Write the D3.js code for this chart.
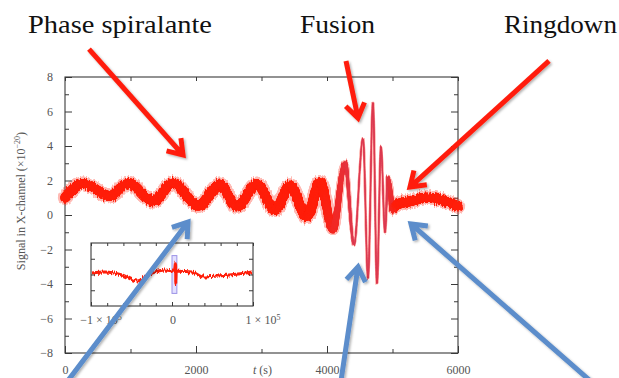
<!DOCTYPE html>
<html>
<head>
<meta charset="utf-8">
<script src="https://cdn.jsdelivr.net/npm/d3@7"></script>
<style>
  body { margin: 0; background: #fff; }
  svg { display: block; }
  .axis text { font-family: "Liberation Serif", "DejaVu Serif", serif; font-size: 12px; fill: #555; }
  .axis line { stroke: #3a3a3a; }
  .axis path { stroke: none; }
</style>
</head>
<body>
<div id="chart"></div>
<script>
const signalT = [0, 275, 687, 962, 1344, 1649, 2031, 2366, 2626, 2931, 3206, 3435, 3695, 3893,
  4092, 4275, 4412, 4550, 4626, 4702, 4763, 4824, 4886, 4931, 5008, 5069, 5268, 5528, 5803, 6000];
const signalV = [1.0, 1.8, 1.1, 1.85, 0.8, 1.85, 0.55, 1.75, 0.5, 1.8, 0.3, 1.7, -0.1, 1.9,
  -0.85, 3.05, -1.75, 4.45, -3.65, 6.5, -3.95, 3.95, -1.0, 2.2, 0.3, 0.6, 0.8, 1.0, 0.8, 0.5];

// inset: the long record, the main window marked around t = 0
const insetT = [-98800, -82700, -61700, -43200, -24700, -8600, 0, 3000, 4500, 4700, 5200, 8000,
  24700, 38300, 56800, 81500, 98800];
const insetV = [0.19, 0.32, -0.06, -0.82, 0.19, 0.57, 0.45, 0.4, 1.5, -1.2, 0.4, 0.4,
  0.32, -0.32, -0.19, 0.06, 0.32];
const insetWindowT = [0, 6000];
const insetWindowV = [-2.4, 2.4];

const xTicks = [0, 2000, 4000, 6000];
const xMinor = [1000, 3000, 5000];
const yTicks = [-8, -6, -4, -2, 0, 2, 4, 6, 8];
const yMinor = [-7, -5, -3, -1, 1, 3, 5, 7];
const insetXTicks = [-100000, 0, 100000];
const insetXMinor = [-80000, -60000, -40000, -20000, 20000, 40000, 60000, 80000];

// annotations: label text, arrow tail and tip in data units (t, signal)
const labels = ["Phase spiralante", "Fusion", "Ringdown"];
const redArrows = [
  [[366, 9.62], [1802, 3.48]],
  [[4290, 8.93], [4473, 5.62]],
  [[7389, 8.93], [5267, 1.62]]
];
const blueArrows = [
  [[46, -9.6], [1878, -0.41]],
  [[4214, -9.6], [4473, -3.01]],
  [[8015, -9.6], [5282, -0.52]]
];

const W = 619, H = 378;
const plot = { left: 65, right: 458, top: 77, bottom: 353 };
const inset = { left: 91, right: 253, top: 243, bottom: 306 };
const RED = "#ff1e0a", BLUE = "#5b8dcb";
const serif = '"Liberation Serif", "DejaVu Serif", serif';

const svg = d3.select("#chart").append("svg").attr("width", W).attr("height", H);
const defs = svg.append("defs");

// jagged noise on the trace
const noise = defs.append("filter").attr("id", "noise")
  .attr("filterUnits", "userSpaceOnUse").attr("x", 0).attr("y", 0).attr("width", W).attr("height", H)
  .attr("color-interpolation-filters", "sRGB");
noise.append("feTurbulence").attr("type", "fractalNoise").attr("baseFrequency", "0.9 0.07")
  .attr("numOctaves", 2).attr("seed", 3).attr("result", "turb");
noise.append("feColorMatrix").attr("in", "turb").attr("type", "matrix")
  .attr("values", "0 0 0 0 0.5  0 1 0 0 0  0 0 0 0 0  0 0 0 0 1").attr("result", "map");
noise.append("feDisplacementMap").attr("in", "SourceGraphic").attr("in2", "map")
  .attr("scale", 6).attr("xChannelSelector", "R").attr("yChannelSelector", "G").attr("result", "disp");
noise.append("feGaussianBlur").attr("in", "disp").attr("stdDeviation", 0.5);

const shadow = defs.append("filter").attr("id", "shadow")
  .attr("x", "-20%").attr("y", "-20%").attr("width", "140%").attr("height", "140%");
shadow.append("feDropShadow").attr("dx", 1.5).attr("dy", 1.5).attr("stdDeviation", 1)
  .attr("flood-color", "#000").attr("flood-opacity", 0.3);

const x = d3.scaleLinear().domain([0, 6000]).range([plot.left, plot.right]);
const y = d3.scaleLinear().domain([-8, 8]).range([plot.bottom, plot.top]);

// axes with inward ticks on all four sides
function axes(g, xs, ys, box, xt, xm, yt, ym, major, minor, xfmt, yfmt) {
  g.append("g").attr("class", "axis").attr("transform", `translate(0,${box.bottom})`)
    .call(d3.axisBottom(xs).tickValues(xt).tickSize(-major).tickSizeOuter(0).tickPadding(major + 5).tickFormat(xfmt));
  g.append("g").attr("class", "axis").attr("transform", `translate(0,${box.bottom})`)
    .call(d3.axisBottom(xs).tickValues(xm).tickSize(-minor).tickSizeOuter(0).tickFormat(""));
  g.append("g").attr("class", "axis").attr("transform", `translate(0,${box.top})`)
    .call(d3.axisTop(xs).tickValues(xt.concat(xm)).tickSize(-minor).tickSizeOuter(0).tickFormat(""));
  if (yt) {
    g.append("g").attr("class", "axis").attr("transform", `translate(${box.left},0)`)
      .call(d3.axisLeft(ys).tickValues(yt).tickSize(-major).tickSizeOuter(0).tickPadding(major + 5).tickFormat(yfmt));
    g.append("g").attr("class", "axis").attr("transform", `translate(${box.left},0)`)
      .call(d3.axisLeft(ys).tickValues(ym).tickSize(-minor).tickSizeOuter(0).tickFormat(""));
    g.append("g").attr("class", "axis").attr("transform", `translate(${box.right},0)`)
      .call(d3.axisRight(ys).tickValues(yt).tickSize(-major).tickSizeOuter(0).tickFormat(""));
    g.append("g").attr("class", "axis").attr("transform", `translate(${box.right},0)`)
      .call(d3.axisRight(ys).tickValues(ym).tickSize(-minor).tickSizeOuter(0).tickFormat(""));
  }
  g.append("rect").attr("x", box.left).attr("y", box.top)
    .attr("width", box.right - box.left).attr("height", box.bottom - box.top)
    .attr("fill", "none").attr("stroke", "#3a3a3a").attr("stroke-width", 1.1);
}

axes(svg, x, y, plot, xTicks, xMinor, yTicks, yMinor, 7, 4, d3.format("d"), d3.format("d"));

// signal: sample the curve and stroke it with a width that thins through the merger
const line = d3.line().x(d => x(d[0])).y(d => y(d[1])).curve(d3.curveMonotoneX);
const pts = signalT.map((t, i) => [t, signalV[i]]);
const tmp = svg.append("path").attr("d", line(pts)).attr("fill", "none");
const node = tmp.node();
const L = node.getTotalLength();
const samples = d3.range(0, L, 0.6).map(l => node.getPointAtLength(l));
samples.push(node.getPointAtLength(L));
tmp.remove();

const bandWidth = d3.scaleLinear().domain([0, 3950, 4420, 4900, 5080, 6000])
  .range([10, 10, 1.4, 1.4, 10, 10]).clamp(true);
const bandColor = d3.scaleLinear().domain([1.4, 10]).range(["#dc3a50", RED]).clamp(true);
const segs = d3.pairs(samples);
const segW = d => bandWidth(x.invert((d[0].x + d[1].x) / 2));

const sig = svg.append("g").attr("filter", "url(#noise)");
const halo = sig.append("g").attr("opacity", 0.3);
halo.selectAll("line").data(segs).join("line")
  .attr("x1", d => d[0].x).attr("y1", d => d[0].y).attr("x2", d => d[1].x).attr("y2", d => d[1].y)
  .attr("stroke", RED).attr("stroke-linecap", "round")
  .attr("stroke-width", d => segW(d) * 1.35 + 0.8);
sig.append("g").selectAll("line").data(segs).join("line")
  .attr("x1", d => d[0].x).attr("y1", d => d[0].y).attr("x2", d => d[1].x).attr("y2", d => d[1].y)
  .attr("stroke-linecap", "round")
  .attr("stroke", d => bandColor(segW(d)))
  .attr("stroke-width", d => segW(d));

// axis titles
svg.append("text").attr("transform", "translate(25,201) rotate(-90)")
  .attr("text-anchor", "middle").attr("font-family", serif).attr("font-size", 12).attr("fill", "#555")
  .call(t => {
    t.append("tspan").text("Signal in X-channel (×10");
    t.append("tspan").attr("font-size", 8).attr("dy", -5).text("−20");
    t.append("tspan").attr("dy", 5).text(")");
  });
svg.append("text").attr("x", 253).attr("y", 374).attr("font-family", serif).attr("font-size", 12).attr("fill", "#555")
  .call(t => {
    t.append("tspan").attr("font-style", "italic").text("t");
    t.append("tspan").text(" (s)");
  });

// inset
const ix = d3.scaleLinear().domain([-100000, 100000]).range([inset.left, inset.right]);
const iy = d3.scaleLinear().domain([-4, 4]).range([inset.bottom, inset.top]);
const ig = svg.append("g");
ig.append("rect").attr("x", inset.left).attr("y", inset.top)
  .attr("width", inset.right - inset.left).attr("height", inset.bottom - inset.top).attr("fill", "#fff");
ig.append("rect").attr("x", ix(insetWindowT[0])).attr("y", iy(insetWindowV[1]))
  .attr("width", ix(insetWindowT[1]) - ix(insetWindowT[0])).attr("height", iy(insetWindowV[0]) - iy(insetWindowV[1]))
  .attr("fill", "rgba(175,165,255,0.35)").attr("stroke", "#9c92e6").attr("stroke-width", 1);
const iline = d3.line().x(d => ix(d[0])).y(d => iy(d[1])).curve(d3.curveMonotoneX);
ig.append("path").attr("d", iline(insetT.map((t, i) => [t, insetV[i]])))
  .attr("fill", "none").attr("stroke", RED).attr("stroke-width", 3).attr("stroke-linejoin", "round")
  .attr("filter", "url(#noise)");
axes(ig, ix, iy, inset, insetXTicks, insetXMinor, [-2, 0, 2], [], 4, 3, () => "", () => "");
ig.selectAll(".axis text").remove();
const insetLabel = ig.selectAll("text.il").data(insetXTicks).join("text").attr("class", "il")
  .attr("x", d => ix(d) + (d === 0 ? 1 : 10)).attr("y", 324).attr("text-anchor", "middle")
  .attr("font-family", serif).attr("font-size", 12).attr("fill", "#555");
insetLabel.each(function(d) {
  const t = d3.select(this);
  if (d === 0) { t.text("0"); return; }
  t.append("tspan").text((d < 0 ? "−" : "") + "1 × 10");
  t.append("tspan").attr("font-size", 8).attr("dy", -4).text("5");
});

// annotation labels
const labelPos = [[28, 184], [300, 75], [504, 113]];
svg.selectAll("text.lab").data(labels).join("text").attr("class", "lab")
  .attr("x", (d, i) => labelPos[i][0]).attr("y", 33)
  .attr("textLength", (d, i) => labelPos[i][1]).attr("lengthAdjust", "spacingAndGlyphs")
  .attr("font-family", serif).attr("font-size", 25).attr("fill", "#111").text(d => d);

// arrows
function arrow(a, color) {
  const x0 = x(a[0][0]), y0 = y(a[0][1]), x1 = x(a[1][0]), y1 = y(a[1][1]);
  const ang = Math.atan2(y0 - y1, x0 - x1), len = 17, spread = 0.6;
  const w1 = [x1 + len * Math.cos(ang + spread), y1 + len * Math.sin(ang + spread)];
  const w2 = [x1 + len * Math.cos(ang - spread), y1 + len * Math.sin(ang - spread)];
  const p = d3.path();
  p.moveTo(x0, y0); p.lineTo(x1, y1);
  p.moveTo(w1[0], w1[1]); p.lineTo(x1, y1); p.lineTo(w2[0], w2[1]);
  svg.append("path").attr("d", p.toString()).attr("fill", "none")
    .attr("stroke", color).attr("stroke-width", 5).attr("stroke-linejoin", "miter")
    .attr("stroke-linecap", "butt").attr("filter", "url(#shadow)");
}
redArrows.forEach(a => arrow(a, RED));
blueArrows.forEach(a => arrow(a, BLUE));
</script>
</body>
</html>
